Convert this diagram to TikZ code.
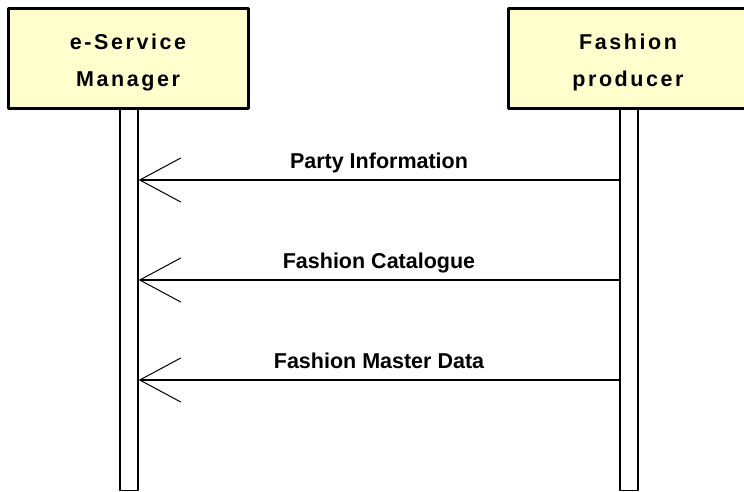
\documentclass[tikz,border=0pt]{standalone}
\usepackage{fontspec}
\setmainfont{Liberation Sans}
\newfontfamily\hdrfont[LetterSpace=12]{Liberation Sans}
\usetikzlibrary{arrows.meta}
\definecolor{actorfill}{RGB}{255,255,206}
\begin{document}
\begin{tikzpicture}[x=1pt, y=-1pt, line join=round,
    actor/.style={draw=black, line width=3pt, fill=actorfill, minimum width=240pt, minimum height=100pt, inner sep=0pt},
    actortext/.style={align=center, inner sep=0pt, font=\hdrfont\bfseries\fontsize{21.5}{37}\selectfont},
    lifeline/.style={draw=black, line width=1.4pt, fill=white, minimum width=18pt, minimum height=381pt, inner sep=0pt, anchor=north},
    msg/.style={line width=1.4pt, -{Straight Barb[length=41pt, width=44pt, line width=1pt]}},
    msgtext/.style={anchor=base, inner sep=0pt, yshift=12pt, font=\bfseries\fontsize{21.5}{24}\selectfont}]
    \useasboundingbox (0,0) rectangle (744,492);
    \clip (0,0) rectangle (744,492);
    \def\ya{180} \def\yb{280} \def\yc{380} % message rows
    % lifelines
    \node[lifeline] (esml) at (129,108.5) {};
    \node[lifeline] (fpl) at (629,108.5) {};
    % actors
    \node[actor] (esm) at (128,58.5) {};
    \node[actor] (fp) at (628,58.5) {};
    \node[actortext] (esmt) at ([yshift=-4pt]esm.center) {e-Service\\Manager};
    \node[actortext] (fpt) at ([yshift=-4pt]fp.center) {Fashion\\producer};
    % messages
    \coordinate (m1) at (esml.east |- 0,\ya);
    \coordinate (m2) at (esml.east |- 0,\yb);
    \coordinate (m3) at (esml.east |- 0,\yc);
    \coordinate (p1) at (fpl.west |- 0,\ya);
    \coordinate (p2) at (fpl.west |- 0,\yb);
    \coordinate (p3) at (fpl.west |- 0,\yc);
    \draw[msg] (p1) -- (m1) node[msgtext, midway] (t1) {Party Information};
    \draw[msg] (p2) -- (m2) node[msgtext, midway] (t2) {Fashion Catalogue};
    \draw[msg] (p3) -- (m3) node[msgtext, midway] (t3) {Fashion Master Data};
\end{tikzpicture}
\end{document}
